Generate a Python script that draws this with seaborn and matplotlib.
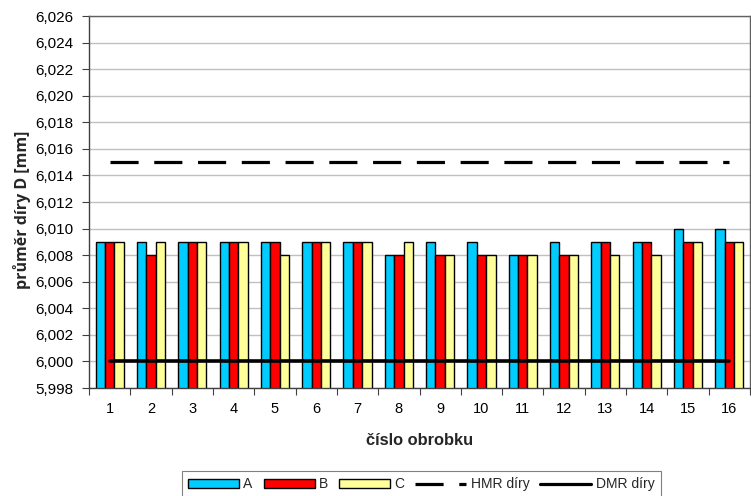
import matplotlib
matplotlib.use("Agg")
import matplotlib.pyplot as plt
import seaborn as sns
import pandas as pd
import numpy as np
from matplotlib.ticker import FuncFormatter, FixedLocator
from matplotlib.patches import Patch
from matplotlib.lines import Line2D

categories = [str(i) for i in range(1, 17)]
series_A = [6.009, 6.009, 6.009, 6.009, 6.009, 6.009, 6.009, 6.008,
            6.009, 6.009, 6.008, 6.009, 6.009, 6.009, 6.010, 6.010]
series_B = [6.009, 6.008, 6.009, 6.009, 6.009, 6.009, 6.009, 6.008,
            6.008, 6.008, 6.008, 6.008, 6.009, 6.009, 6.009, 6.009]
series_C = [6.009, 6.009, 6.009, 6.009, 6.008, 6.009, 6.009, 6.009,
            6.008, 6.008, 6.008, 6.008, 6.008, 6.008, 6.009, 6.009]
hmr_values = [6.015] * 16
dmr_values = [6.000] * 16
series_names = ["A", "B", "C"]
colors = ["#00CCFF", "#FF0000", "#FFFF99"]

df = pd.DataFrame({
    "cislo": categories * 3,
    "serie": [s for s in series_names for _ in categories],
    "hodnota": series_A + series_B + series_C,
})

sns.set_theme(style="white")
plt.rcParams["font.family"] = ["Liberation Sans", "DejaVu Sans"]

DASH = (8.8, 4.9)
LW = 2.3

fig = plt.figure(figsize=(7.51, 4.96), dpi=100)
ax = fig.add_axes([89 / 751, 1 - 388 / 496, 661 / 751, 372 / 496])

sns.barplot(data=df, x="cislo", y="hodnota", hue="serie", order=categories,
            hue_order=series_names, palette=colors, width=0.68,
            edgecolor="black", linewidth=1.0, ax=ax, legend=False, saturation=1)

xpos = np.arange(len(categories))
ax.plot(xpos, hmr_values, color="black", lw=LW, dashes=DASH, zorder=5)
ax.plot(xpos, dmr_values, color="black", lw=LW + 0.3, zorder=5)

ax.set_ylim(5.998, 6.026)
ax.set_xlim(-0.5, len(categories) - 0.5)
yt = np.round(np.arange(5.998, 6.0261, 0.002), 3)
ax.set_yticks(yt)
ax.yaxis.set_major_formatter(FuncFormatter(lambda v, p: f"{v:.3f}".replace(".", ",")))
ax.yaxis.grid(True, color="#C0C0C0", lw=1.0)
ax.set_axisbelow(True)

ax.xaxis.set_minor_locator(FixedLocator(np.arange(-0.5, len(categories), 1.0)))
ax.tick_params(axis="x", which="major", length=0, labelsize=10.5, pad=10, colors="black")
ax.tick_params(axis="x", which="minor", length=5, width=0.8, color="#404040", direction="out", bottom=True)
ax.tick_params(axis="y", which="major", length=5, width=0.8, direction="out",
               labelsize=11, left=True, labelcolor="black", color="#404040", pad=6)

for side in ["left", "bottom"]:
    ax.spines[side].set_color("#404040")
    ax.spines[side].set_linewidth(1.0)
for side in ["top", "right"]:
    ax.spines[side].set_color("#606060")
    ax.spines[side].set_linewidth(1.0)

ax.set_xlabel("číslo obrobku", fontsize=11.8, fontweight="bold", labelpad=12)
ax.set_ylabel("průměr díry D [mm]", fontsize=11.5, fontweight="bold",
              family=["Open Sans", "DejaVu Sans"])
ax.yaxis.set_label_coords(-58 / 661, 0.48)

handles = [Patch(facecolor=c, edgecolor="black", lw=1.0) for c in colors]
handles += [Line2D([], [], color="black", lw=LW, dashes=DASH),
            Line2D([], [], color="black", lw=LW)]
labels = series_names + ["HMR díry", "DMR díry"]
leg = fig.legend(handles, labels, loc="upper center", bbox_to_anchor=(0.561, 0.05),
                 ncol=5, frameon=True, fancybox=False, fontsize=10,
                 handlelength=3.67, handleheight=0.65, handletextpad=0.3, columnspacing=0.8,
                 borderpad=0.45, borderaxespad=0.0)
leg.get_frame().set_edgecolor("#606060")
leg.get_frame().set_linewidth(0.8)

fig.savefig("out.png", dpi=100)
